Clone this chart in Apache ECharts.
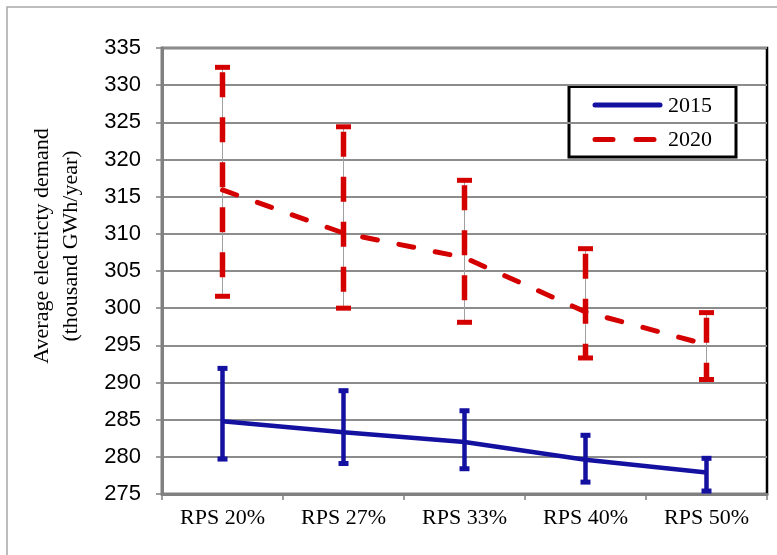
<!DOCTYPE html>
<html><head><meta charset="utf-8">
<script src="https://cdn.jsdelivr.net/npm/echarts@6/dist/echarts.min.js"></script>
<style>html,body{margin:0;padding:0;background:#fff}#c{width:777px;height:555px}</style>
</head><body><div id="c"></div>
<script>
var categories = ['RPS 20%','RPS 27%','RPS 33%','RPS 40%','RPS 50%'];
var mean2015 = [284.8, 283.3, 282.0, 279.6, 277.9];
var low2015  = [279.7, 279.1, 278.4, 276.6, 275.4];
var high2015 = [291.9, 288.9, 286.2, 282.9, 279.8];
var mean2020 = [315.9, 310.1, 306.8, 299.5, 295.1];
var low2020  = [301.6, 300.0, 298.1, 293.3, 290.4];
var high2020 = [332.4, 324.4, 317.2, 308.0, 299.4];
var seriesNames = ['2015', '2020'];
var yTitle = 'Average electricty demand\n(thousand GWh/year)';

var BLUE = '#1410a0', RED = '#d40000';

function errData(lo, hi){ return lo.map(function(v,i){ return [i, v, hi[i]]; }); }

function makeRender(color, dashed, capW){
  return function(params, api){
    var x = api.value(0);
    var p1 = api.coord([x, api.value(1)]);
    var p2 = api.coord([x, api.value(2)]);
    var ch = [];
    if (dashed) {
      ch.push({type:'line', shape:{x1:p1[0],y1:p1[1],x2:p2[0],y2:p2[1]}, style:{stroke:'#a0a0a0', lineWidth:1}});
      ch.push({type:'line', shape:{x1:p2[0],y1:p2[1]+5,x2:p1[0],y2:p1[1]-2}, style:{stroke:color, lineWidth:5.5, lineDash:[25,20]}});
    } else {
      ch.push({type:'line', shape:{x1:p1[0],y1:p1[1],x2:p2[0],y2:p2[1]}, style:{stroke:color, lineWidth:4.5}});
    }
    ch.push({type:'line', shape:{x1:p1[0]-capW/2,y1:p1[1],x2:p1[0]+capW/2,y2:p1[1]}, style:{stroke:color, lineWidth:5}});
    ch.push({type:'line', shape:{x1:p2[0]-capW/2,y1:p2[1],x2:p2[0]+capW/2,y2:p2[1]}, style:{stroke:color, lineWidth:5}});
    return {type:'group', children:ch};
  };
}

var chart = echarts.init(document.getElementById('c'), null, {renderer:'canvas'});
chart.setOption({
  animation:false,
  backgroundColor:'#fff',
  grid:{left:162, top:48, width:605, height:446, show:true, borderColor:'#000', borderWidth:2.5, backgroundColor:'transparent'},
  graphic:[
    {type:'rect', shape:{x:7,y:7,width:776,height:560}, style:{fill:'none', stroke:'#a8a8a8', lineWidth:1.5}, silent:true, z:-1},
    {type:'text', x:57, y:246, rotation:Math.PI/2, z:10,
      style:{text:yTitle, fontFamily:'Liberation Serif', fontSize:22, lineHeight:29, fill:'#000', align:'center', verticalAlign:'middle'}},
    {type:'group', z:20, children:[
      {type:'rect', shape:{x:569,y:86.5,width:167,height:70.5}, style:{fill:'#fff', stroke:'#000', lineWidth:3}},
      {type:'line', shape:{x1:595,y1:105,x2:660,y2:105}, style:{stroke:BLUE, lineWidth:5, lineCap:'round'}},
      {type:'text', x:668, y:106, style:{text:seriesNames[0], fontFamily:'Liberation Serif', fontSize:22, fill:'#000', verticalAlign:'middle'}},
      {type:'line', shape:{x1:595,y1:139.5,x2:655,y2:139.5}, style:{stroke:RED, lineWidth:5, lineCap:'round', lineDash:[18,23]}},
      {type:'text', x:668, y:140, style:{text:seriesNames[1], fontFamily:'Liberation Serif', fontSize:22, fill:'#000', verticalAlign:'middle'}}
    ]}
  ],
  xAxis:{
    type:'category', data:categories, boundaryGap:true,
    axisLine:{lineStyle:{color:'#808080', width:3}},
    axisTick:{show:true, length:6, lineStyle:{color:'#808080', width:1.5}, alignWithLabel:false},
    axisLabel:{fontFamily:'Liberation Serif', fontSize:22, color:'#000', margin:13},
    splitLine:{show:false}
  },
  yAxis:{
    type:'value', min:275, max:335, interval:5,
    axisLine:{show:true, lineStyle:{color:'#808080', width:3}},
    axisTick:{show:true, length:6, lineStyle:{color:'#808080', width:1.5}},
    axisLabel:{fontFamily:'Liberation Sans', fontSize:22, color:'#000', margin:21},
    splitLine:{show:true, lineStyle:{color:'#8c8c8c', width:2}}
  },
  series:[
    {name:seriesNames[0], type:'line', data:mean2015, symbol:'none', lineStyle:{color:BLUE, width:4.5}, itemStyle:{color:BLUE}, z:5},
    {name:seriesNames[1], type:'line', data:mean2020, symbol:'none', lineStyle:{color:RED, width:5, type:[15,22], cap:'round'}, itemStyle:{color:RED}, z:5},
    {name:'err2015', type:'custom', data:errData(low2015, high2015), renderItem:makeRender(BLUE, false, 10), z:4, encode:{x:0, y:[1,2]}},
    {name:'err2020', type:'custom', data:errData(low2020, high2020), renderItem:makeRender(RED, true, 15), z:4, encode:{x:0, y:[1,2]}}
  ]
});
</script></body></html>
